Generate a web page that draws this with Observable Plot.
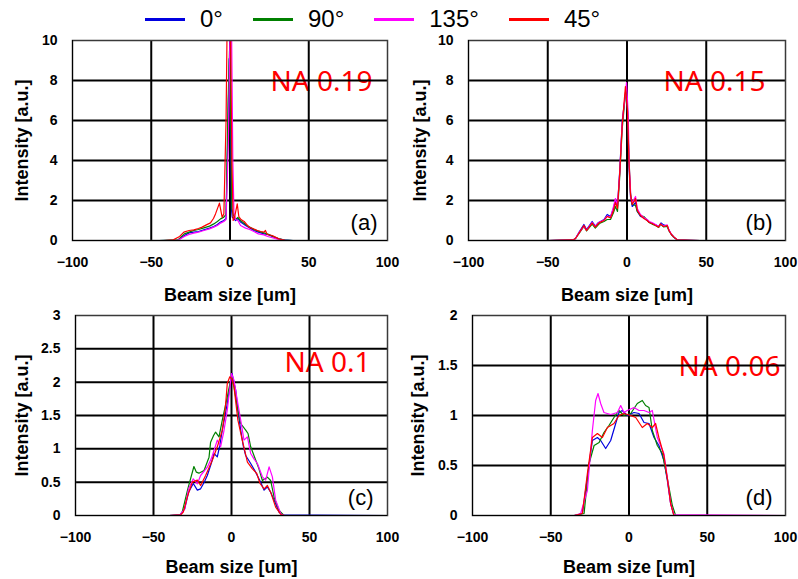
<!DOCTYPE html>
<html>
<head>
<meta charset="utf-8">
<script src="https://cdn.jsdelivr.net/npm/d3@7"></script>
<script src="https://cdn.jsdelivr.net/npm/@observablehq/plot@0.6"></script>
<style>
  html, body { margin: 0; padding: 0; background: #fff; }
  #root { position: relative; width: 798px; height: 579px; overflow: hidden; background: #fff; font-family: "Liberation Sans", Arial, sans-serif; }
  .panel { position: absolute; }
  .panel svg { overflow: visible; background: transparent !important; }
  #legend { position: absolute; left: 145px; top: 4px; display: flex; align-items: center; height: 30px; z-index: 5; }
  .item { display: flex; align-items: center; margin-right: 30px; }
  .swatch { width: 40px; height: 3px; margin-right: 15px; }
  .lab { font-size: 24px; color: #000; }
</style>
</head>
<body>
<div id="root">
  <div id="legend"></div>
</div>
<script>
// ---- series names & colours ----
const seriesNames = ["0°", "90°", "135°", "45°"];
const seriesColors = ["#0000e0", "#008000", "#ff00ff", "#ff0000"];

// ---- tick values ----
const xTicks = [-100, -50, 0, 50, 100];
const yTicksA = [0, 2, 4, 6, 8, 10];
const yTicksB = [0, 2, 4, 6, 8, 10];
const yTicksC = [0, 0.5, 1, 1.5, 2, 2.5, 3];
const yTicksD = [0, 0.5, 1, 1.5, 2];

// ---- labels ----
const xLabel = "Beam size [um]";
const yLabel = "Intensity [a.u.]";
const naLabels = ["NA 0.19", "NA 0.15", "NA 0.1", "NA 0.06"];
const tagLabels = ["(a)", "(b)", "(c)", "(d)"];

// ---- panel (a) NA 0.19 : [beam position um, intensity] ----
const a_0 = [[-45,0],[-33,0.02],[-29,0.25],[-26,0.38],[-23,0.42],[-20,0.45],[-16.6,0.53],[-13,0.62],[-10.3,0.7],[-8,0.8],[-6,0.92],[-3.9,1.0],[-2.5,1.1],[-1.2,6],[-0.5,9.1],[0.3,6],[1,1.5],[1.4,1.17],[3.5,1.0],[5,1.1],[6.7,0.92],[9.9,0.75],[12.5,0.62],[15.2,0.5],[18,0.42],[21.5,0.33],[24,0.3],[27.9,0.17],[31,0.08],[34.2,0.03],[40,0]];
const a_90 = [[-45,0],[-33,0.03],[-29,0.33],[-26,0.42],[-23,0.5],[-20,0.55],[-16.6,0.63],[-13,0.72],[-10.3,0.83],[-8,0.95],[-6,1.08],[-3.9,1.17],[-2.5,1.3],[-1.2,7],[-0.3,9.5],[0.5,6],[1.2,1.6],[2,1.3],[3.5,1.05],[5,1.15],[6.7,1.0],[9.9,0.8],[12.5,0.68],[15.2,0.55],[18,0.47],[21.5,0.38],[24,0.32],[27.9,0.18],[31,0.08],[35,0.02],[40,0]];
const a_135 = [[-42,0],[-33,0.01],[-29,0.2],[-26,0.3],[-23,0.37],[-20,0.42],[-16.6,0.5],[-13,0.58],[-10.3,0.67],[-8,0.75],[-6,0.87],[-3.9,0.95],[-2.5,1.05],[-1,5],[0,10.5],[1,10.5],[1.8,4],[2.5,1.4],[3.5,1.05],[5,1.0],[6.7,0.75],[9.9,0.62],[12.5,0.55],[15.2,0.45],[18,0.33],[21.5,0.28],[24,0.2],[27.9,0.12],[31,0.05],[35,0.01],[40,0]];
const a_45 = [[-42,0],[-36,0.03],[-32,0.2],[-29.3,0.42],[-26,0.5],[-23,0.53],[-20,0.6],[-17.7,0.67],[-15,0.78],[-12.4,0.88],[-10.5,1.1],[-9.2,1.33],[-6.7,1.87],[-5,1.17],[-3.9,1.33],[-2.5,6],[-1.8,11],[0.3,11],[1.2,4],[2,1.0],[3,1.2],[4.6,1.83],[5.6,1.2],[7,1.05],[9,0.95],[12,0.67],[14.5,0.6],[17.3,0.5],[19.5,0.45],[21.5,0.42],[22.5,0.5],[23.6,0.3],[26.8,0.25],[31,0.08],[35.3,0],[40,0]];

// ---- panel (b) NA 0.15 ----
const b_0 = [[-50,0],[-40,0.02],[-34,0.03],[-32.5,0.1],[-30,0.45],[-27.2,0.8],[-25.5,0.55],[-22,0.95],[-20,0.72],[-18,0.9],[-16.7,0.95],[-14.5,1.05],[-12.5,1.3],[-10.4,1.2],[-8.5,1.6],[-7.3,2.0],[-6,1.7],[-4.5,3.6],[-3,6.0],[-0.5,7.6],[0.5,6.2],[1.2,3.8],[2.2,2.2],[3.3,1.7],[5.4,1.9],[6.5,1.45],[8.5,1.2],[10.6,1.15],[12.7,1.0],[14,0.92],[15.8,0.85],[18,0.78],[20,0.7],[21.5,0.88],[23,0.78],[25.4,0.72],[26.5,0.5],[28,0.3],[29.7,0.15],[31.8,0.03],[40,0.01],[46,0]];
const b_90 = [[-50,0],[-40,0.02],[-34,0.03],[-32.5,0.1],[-30,0.38],[-27.2,0.7],[-25.5,0.48],[-22,0.82],[-20,0.62],[-18,0.8],[-16.7,0.88],[-14.5,0.95],[-12.5,1.05],[-10.4,1.05],[-8.5,1.4],[-7.3,1.7],[-6,1.45],[-4.5,3.3],[-3,5.6],[-0.8,7.5],[0.3,6.6],[1.2,4.2],[2.2,2.4],[3.3,1.8],[5.4,1.75],[6.5,1.45],[8.5,1.25],[10.6,1.2],[12.7,1.02],[14,0.9],[15.8,0.82],[18,0.75],[20,0.65],[21.5,0.8],[23,0.68],[25.4,0.7],[26.5,0.48],[28,0.3],[29.7,0.15],[31.8,0.03],[40,0.01],[46,0]];
const b_135 = [[-50,0],[-40,0.02],[-34,0.03],[-32.5,0.1],[-30,0.42],[-27.2,0.72],[-25.5,0.52],[-22,0.9],[-20,0.7],[-18,0.88],[-16.7,0.95],[-14.5,1.02],[-12.5,1.22],[-10.4,1.15],[-8.5,1.7],[-7.3,2.1],[-6,1.75],[-4.5,3.5],[-3,5.9],[-0.3,7.9],[0.7,6.4],[1.5,3.6],[2.5,2.1],[3.3,1.9],[5.4,2.2],[6.5,1.6],[8.5,1.3],[10.6,1.15],[12.7,1.05],[14,0.95],[15.8,0.9],[18,0.8],[20,0.7],[21.5,0.82],[23,0.72],[25.4,0.78],[26.5,0.52],[28,0.32],[29.7,0.17],[31.8,0.03],[40,0.01],[46,0]];
const b_45 = [[-50,0],[-40,0.02],[-34,0.03],[-32.5,0.1],[-30,0.4],[-27.2,0.75],[-25.5,0.5],[-22,0.87],[-20,0.67],[-18,0.85],[-16.7,0.92],[-14.5,1.0],[-12.5,1.2],[-10.4,1.13],[-8.5,1.5],[-7.3,1.9],[-6,1.6],[-4.5,3.5],[-3,5.8],[-1,7.7],[0.3,6.5],[1.2,4],[2.2,2.3],[3.3,1.8],[5.4,2.1],[6.5,1.5],[8.5,1.25],[10.6,1.1],[12.7,1.0],[14,0.9],[15.8,0.85],[18,0.75],[20,0.67],[21,0.83],[23,0.7],[25.4,0.75],[26.5,0.5],[28,0.3],[29.7,0.17],[31.8,0.03],[40,0.01],[46,0]];

// ---- panel (c) NA 0.1 ----
const c_0 = [[-100,0],[-40,0],[-33,0.01],[-30,0.1],[-27.5,0.35],[-24.5,0.48],[-21.9,0.38],[-19.8,0.4],[-17.5,0.5],[-15.5,0.6],[-13,0.78],[-11.2,0.93],[-9.1,0.88],[-7.5,1.05],[-5.9,1.28],[-2.7,1.68],[-1,1.95],[0.4,2.13],[1.5,2.0],[2.7,1.88],[4.2,1.55],[5.9,1.28],[7.5,1.05],[9.1,0.9],[12.3,0.78],[15.5,0.65],[18.7,0.5],[20.9,0.38],[23,0.43],[25.1,0.35],[27.3,0.23],[30.5,0.05],[33,0.01],[100,0]];
const c_90 = [[-100,0],[-40,0],[-33,0.01],[-31.6,0.05],[-28,0.4],[-24.1,0.735],[-22.5,0.65],[-20.9,0.635],[-17.6,0.675],[-14.4,0.875],[-13.4,1.1],[-11.5,1.2],[-10.2,1.25],[-8,1.18],[-5.9,1.43],[-2.7,1.78],[0,2.1],[1.6,1.93],[3.7,1.63],[5.9,1.38],[9.1,1.28],[10.6,1.23],[12.3,1.03],[14.4,0.9],[17.6,0.7],[19.8,0.525],[23,0.575],[25.1,0.525],[27.3,0.275],[30.5,0.075],[33.7,0],[100,0]];
const c_135 = [[-100,0],[-40,0],[-33,0.01],[-30,0.1],[-27.5,0.4],[-24.5,0.55],[-21.9,0.475],[-19.8,0.6],[-15.5,0.725],[-13,0.85],[-11.2,0.975],[-9.1,1.13],[-7,1.03],[-5,1.25],[-2.7,1.58],[0,2.13],[1.6,2.03],[3.7,1.73],[5.9,1.43],[8,1.13],[10.2,1.18],[12.3,0.93],[14.4,0.85],[16.6,0.78],[19.8,0.58],[21.9,0.53],[24.1,0.73],[26.2,0.58],[28.3,0.23],[31.6,0.025],[34,0],[100,0]];
const c_45 = [[-100,0],[-40,0],[-32.5,0.01],[-30.9,0.05],[-28.3,0.28],[-25.1,0.5],[-21.9,0.53],[-19.8,0.45],[-16.6,0.6],[-12.3,0.83],[-9.1,1.03],[-5.9,1.28],[-4,1.6],[-2.7,1.98],[-1.1,2.08],[0.3,2.05],[1.6,1.93],[4.1,1.43],[6.9,1.13],[10.2,0.8],[13.4,0.7],[16.2,0.63],[18.3,0.48],[20.9,0.4],[23,0.45],[25.1,0.35],[28.3,0.125],[31.6,0.015],[34,0],[100,0]];

// ---- panel (d) NA 0.06 ----
const d_0 = [[-100,0],[-35,0],[-29.8,0.02],[-26.6,0.38],[-23.4,0.75],[-20.2,0.78],[-18.1,0.75],[-14.9,0.67],[-11.7,0.75],[-8.5,0.92],[-6.4,1.03],[-4.3,1.05],[-1.1,1.0],[3.2,1.03],[6.4,1.02],[9.6,0.93],[12.8,0.92],[16,0.78],[19.1,0.7],[22.3,0.55],[24.5,0.35],[26.6,0.12],[28.7,0],[100,0]];
const d_90 = [[-100,0],[-35,0],[-28.7,0.02],[-25.5,0.52],[-22.3,0.7],[-19.1,0.73],[-16,0.83],[-12.8,0.9],[-9.6,0.98],[-6.4,1.05],[-3.2,1.0],[1.1,1.02],[5.3,1.12],[8.5,1.15],[10.6,1.1],[12.8,1.08],[14.9,0.85],[18.1,0.7],[21.3,0.62],[24.5,0.37],[27.7,0.1],[29.8,0],[100,0]];
const d_135 = [[-100,0],[-35,0],[-30.9,0.02],[-26.6,0.25],[-23.4,0.85],[-21.3,1.15],[-19.8,1.22],[-18.1,1.12],[-16,1.03],[-11.7,1.01],[-7.4,1.03],[-5.3,1.1],[-3.2,1.03],[-1.1,1.05],[3.2,1.08],[6.4,1.05],[9.6,1.05],[12.8,1.03],[14.9,1.05],[16.4,0.92],[18.1,0.78],[22.3,0.62],[24.5,0.38],[26.6,0.12],[28.7,0.01],[100,0]];
const d_45 = [[-100,0],[-35,0],[-29.8,0.02],[-26.6,0.42],[-23.4,0.78],[-20.2,0.82],[-17,0.78],[-13.8,0.88],[-9.6,0.92],[-6.4,1.0],[-3.2,1.02],[1.1,1.0],[4.3,0.98],[8.5,0.88],[11.7,0.92],[14.9,0.88],[17,0.92],[19.1,0.78],[22.3,0.6],[24.5,0.37],[26.6,0.12],[28.7,0],[100,0]];

// ---- legend ----
const legend = document.getElementById("legend");
seriesNames.forEach((n, i) => {
  const it = document.createElement("div"); it.className = "item";
  const sw = document.createElement("div"); sw.className = "swatch"; sw.style.background = seriesColors[i];
  const lb = document.createElement("span"); lb.className = "lab"; lb.textContent = n;
  it.appendChild(sw); it.appendChild(lb); legend.appendChild(it);
});

const fmt = d3.format("~g");

function panel(cfg) {
  const series = cfg.series.map((s, i) => s.map(([x, y]) => ({x, y, s: seriesNames[i]})));
  const yt = cfg.yTicks;
  const marks = [
    Plot.text([cfg.na], {frameAnchor: "top-right", dx: cfg.naDx, dy: cfg.naDy, lineAnchor: "middle", text: d => d, fill: "#ff0000", fontSize: 28, fontWeight: "normal", fontFamily: "'Noto Sans', 'Liberation Sans', sans-serif"}),
    Plot.text([cfg.tag], {frameAnchor: "bottom-right", dx: cfg.tagDx, dy: -18, lineAnchor: "middle", text: d => d, fill: "#000", fontSize: 22, fontWeight: "normal", fontFamily: "'Liberation Sans', sans-serif"}),
    Plot.ruleX(xTicks.slice(1, -1), {stroke: "#000", strokeWidth: 2}),
    Plot.ruleY(yt.slice(1, -1), {stroke: "#000", strokeWidth: 2}),
    ...series.map((s, i) => Plot.line(s, {x: "x", y: "y", stroke: seriesColors[i], strokeWidth: 1.2, clip: true})),
    Plot.frame({stroke: "#3a3a3a", strokeWidth: 1.5}),
    Plot.ruleX([xTicks[0]], {stroke: "#000", strokeWidth: 1}),
    Plot.ruleY([yt[0]], {stroke: "#000", strokeWidth: 1}),
    Plot.text([xLabel], {frameAnchor: "bottom", dy: cfg.xlDy, textAnchor: "middle", lineAnchor: "middle", text: d => d, fill: "#000", fontSize: 18, fontWeight: "bold"}),
    Plot.text([yLabel], {frameAnchor: "left", dx: cfg.ylDx, rotate: -90, textAnchor: "middle", lineAnchor: "middle", text: d => d, fill: "#000", fontSize: 18, fontWeight: "bold"})
  ];
  const svg = Plot.plot({
    width: cfg.w, height: cfg.h,
    marginLeft: cfg.ml, marginRight: cfg.mr, marginTop: cfg.mt, marginBottom: cfg.mb,
    style: {fontFamily: "'Liberation Sans', Arial, sans-serif", fontSize: "14px", fontWeight: "bold", background: "transparent", color: "#000"},
    x: {domain: [xTicks[0], xTicks[xTicks.length - 1]], ticks: xTicks, tickSize: 0, tickPadding: 17, tickFormat: fmt, label: null},
    y: {domain: [yt[0], yt[yt.length - 1]], ticks: yt, tickSize: 0, tickPadding: 15, tickFormat: fmt, label: null},
    marks
  });
  const div = document.createElement("div");
  div.className = "panel";
  div.style.left = cfg.left + "px"; div.style.top = cfg.top + "px";
  div.appendChild(svg);
  document.getElementById("root").appendChild(div);
}

panel({series: [a_0, a_90, a_135, a_45], yTicks: yTicksA, na: naLabels[0], tag: tagLabels[0],
  left: 0, top: 0, w: 400, h: 305, ml: 72, mr: 13, mt: 40, mb: 65, naDx: -15, naDy: 42, tagDx: -10, xlDy: 55, ylDx: -50});
panel({series: [b_0, b_90, b_135, b_45], yTicks: yTicksB, na: naLabels[1], tag: tagLabels[1],
  left: 400, top: 0, w: 398, h: 305, ml: 68, mr: 13, mt: 40, mb: 65, naDx: -20, naDy: 42, tagDx: -13, xlDy: 55, ylDx: -48});
panel({series: [c_0, c_90, c_135, c_45], yTicks: yTicksC, na: naLabels[2], tag: tagLabels[2],
  left: 0, top: 290, w: 400, h: 289, ml: 75, mr: 13, mt: 25, mb: 64, naDx: -17, naDy: 48, tagDx: -14, xlDy: 52, ylDx: -53});
panel({series: [d_0, d_90, d_135, d_45], yTicks: yTicksD, na: naLabels[3], tag: tagLabels[3],
  left: 400, top: 290, w: 398, h: 289, ml: 72, mr: 13, mt: 25, mb: 64, naDx: -5, naDy: 52, tagDx: -13, xlDy: 52, ylDx: -54});
</script>
</body>
</html>
